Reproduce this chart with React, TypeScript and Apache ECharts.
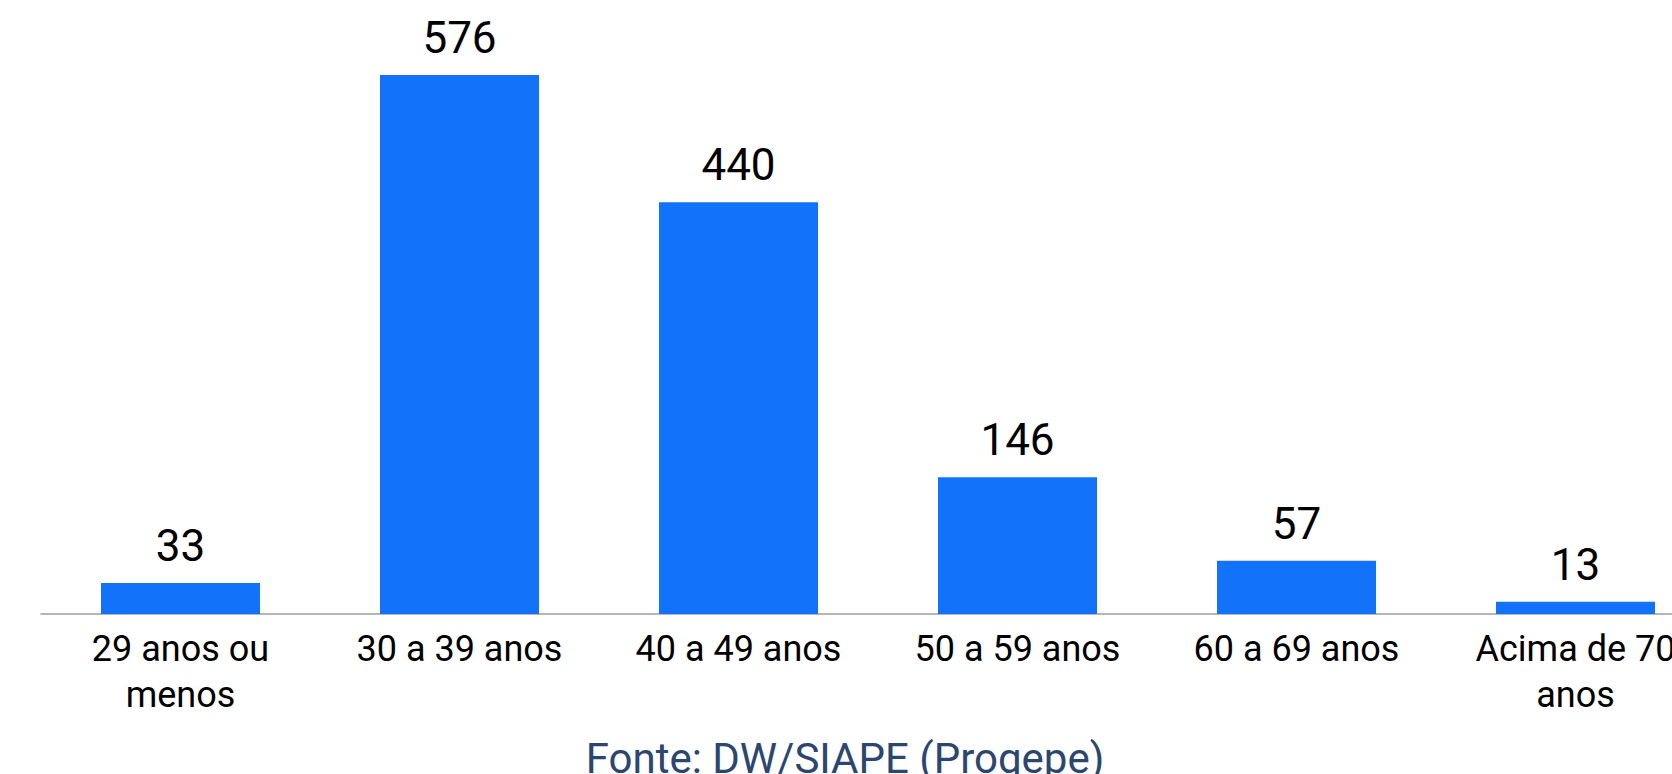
import React, { useEffect, useRef } from "react";
import * as echarts from "echarts";

const categories = [
  "29 anos ou\nmenos",
  "30 a 39 anos",
  "40 a 49 anos",
  "50 a 59 anos",
  "60 a 69 anos",
  "Acima de 70\nanos",
];
const values = [33, 576, 440, 146, 57, 13];
const sourceText = "Fonte: DW/SIAPE (Progepe)";

export default function App() {
  const ref = useRef<HTMLDivElement>(null);
  useEffect(() => {
    if (!ref.current) return;
    const chart = echarts.init(ref.current, undefined, { renderer: "svg" });
    chart.setOption({
      animation: false,
      backgroundColor: "#ffffff",
      grid: { left: 41, top: 0, width: 1674, height: 614, containLabel: false },
      xAxis: {
        type: "category",
        data: categories,
        axisLine: { show: true, lineStyle: { color: "#9e9e9e", width: 1.5 } },
        axisTick: { show: false },
        axisLabel: {
          color: "#000000",
          fontFamily: "Roboto",
          fontSize: 36,
          lineHeight: 46,
          margin: 12,
          interval: 0,
        },
      },
      yAxis: {
        type: "value",
        min: 0,
        max: 656,
        show: false,
        splitLine: { show: false },
      },
      series: [
        {
          type: "bar",
          data: values,
          barWidth: "57%",
          itemStyle: { color: "#1273FA" },
          label: {
            show: true,
            position: "top",
            distance: 15,
            color: "#000000",
            fontFamily: "Roboto",
            fontSize: 44,
          },
        },
      ],
      graphic: [
        {
          type: "text",
          x: 845,
          y: 779,
          style: {
            text: sourceText,
            fill: "#2B4670",
            font: "42px Roboto",
            textAlign: "center",
            textVerticalAlign: "bottom",
          },
        },
      ],
    });
    return () => chart.dispose();
  }, []);
  return (
    <div
      style={{
        position: "fixed",
        left: 0,
        top: 0,
        width: 1672,
        height: 774,
        overflow: "hidden",
        background: "#fff",
      }}
    >
      <div ref={ref} style={{ width: 1760, height: 774 }} />
    </div>
  );
}
